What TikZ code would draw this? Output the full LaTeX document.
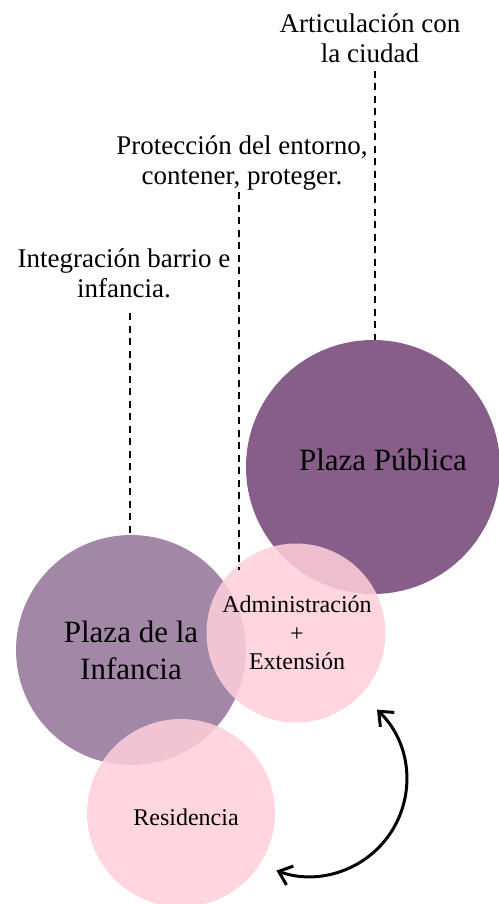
\documentclass[tikz,border=0pt]{standalone}
\usepackage{fontspec}
\setmainfont{Liberation Serif}
\usetikzlibrary{arrows.meta,calc}
\definecolor{pubcol}{HTML}{875E8A}
\definecolor{infcol}{HTML}{A287A6}
\definecolor{pinkcol}{HTML}{FFCFDB}
\tikzset{
  disc/.style={circle, inner sep=0pt, draw=none},
  pinkdisc/.style={disc, fill=pinkcol, fill opacity=0.85},
  toplabel/.style={align=center, inner sep=0pt, font=\fontsize{27}{30}\selectfont},
  biglabel/.style={align=center, inner sep=0pt, font=\fontsize{31}{37}\selectfont},
  midlabel/.style={align=center, inner sep=0pt, font=\fontsize{24}{28.5}\selectfont},
  guide/.style={line width=1.4pt, dash pattern=on 7pt off 5.5pt},
  swing/.style={line width=3pt, {Straight Barb[length=12pt,width=20pt]}-{Straight Barb[length=12pt,width=20pt]}}
}
\begin{document}
\begin{tikzpicture}[x=1pt,y=-1pt]
\useasboundingbox (0,0) rectangle (498,904);
% circles
\node[disc, fill=pubcol, minimum size=254pt] (pub) at (373,467) {};
\node[disc, fill=infcol, minimum size=230pt] (inf) at (131,650) {};
\node[pinkdisc, minimum size=179pt] (adm) at (296,633) {};
\node[pinkdisc, minimum size=188pt] (res) at (181,813) {};
% circle labels
\node[biglabel] (pubtext) at (383,459.5) {Plaza Pública};
\node[biglabel] (inftext) at (131,650) {Plaza de la\\Infancia};
\node[midlabel] (admtext) at (297,633) {Administración\\+\\Extensión};
\node[midlabel] (restext) at (186,817) {Residencia};
% top labels
\node[toplabel] (art) at (370,38.7) {Articulación con\\la ciudad};
\node[toplabel] (pro) at (242,163.5) {Protección del entorno,\\contener, proteger.};
\node[toplabel] (int) at (124,273.5) {Integración barrio e\\infancia.};
% guide lines
\coordinate (tR) at (375,71);
\coordinate (tM) at (239,192);
\coordinate (bM) at (239,570);
\coordinate (tL) at (130,313);
\draw[guide] (tR) -- (tR |- pub.north);
\draw[guide] (tM) -- (bM);
\draw[guide] (tL) -- (tL |- inf.north);
% curved double arrow
\coordinate (arcC) at (311,778);
\coordinate (a1) at ($(arcC)+(-46:95)$);
\draw[swing] (a1) arc[start angle=-46, end angle=110, radius=97];
\end{tikzpicture}
\end{document}
